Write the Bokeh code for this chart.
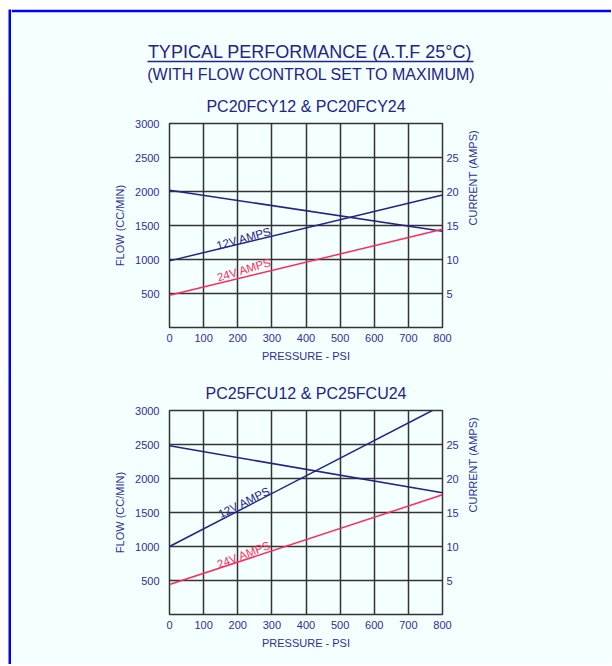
import math
from bokeh.plotting import figure
from bokeh.models import Range1d, LinearAxis, FixedTicker
from bokeh.layouts import column, row
from bokeh.embed import file_html
from bokeh.resources import INLINE
from bokeh.core.properties import value

# ---------------- data ----------------
main_title = "TYPICAL PERFORMANCE (A.T.F 25°C)"
sub_title = "(WITH FLOW CONTROL SET TO MAXIMUM)"
chart_titles = ["PC20FCY12 & PC20FCY24", "PC25FCU12 & PC25FCU24"]
pressure_ticks = [0, 100, 200, 300, 400, 500, 600, 700, 800]
flow_ticks = [500, 1000, 1500, 2000, 2500, 3000]
flow_grid = [0, 500, 1000, 1500, 2000, 2500, 3000]
amp_ticks = [5, 10, 15, 20, 25]
line_labels = ["12V AMPS", "24V AMPS"]

# chart 1 : PC20FCY12 & PC20FCY24
c1_flow_psi = [0, 800]
c1_flow = [2020, 1415]
c1_12v_psi = [0, 800]
c1_12v_amps = [9.8, 19.5]
c1_24v_psi = [0, 800]
c1_24v_amps = [4.75, 14.45]
c1_label_psi = [218, 219]
c1_label_amps = [13.1, 8.5]
c1_label_angle = [15.5, 16.5]

# chart 2 : PC25FCU12 & PC25FCU24
c2_flow_psi = [0, 800]
c2_flow = [2480, 1790]
c2_12v_psi = [0, 770]
c2_12v_amps = [10.0, 30.0]
c2_24v_psi = [0, 800]
c2_24v_amps = [4.4, 17.6]
c2_label_psi = [219, 218]
c2_label_amps = [16.5, 8.8]
c2_label_angle = [26, 21]

# ---------------- style ----------------
BG = "#f4ffff"
BLUE = "#0000ff"
NAVY = "#22228a"
TXT = "#2e2e9a"
RED = "#ff2a5a"
GRID = "#333333"
FONT = "Liberation Sans"
W = 600
EDGE = 3
HEAD_H = 74
C1_TOP, C1_BOTTOM = 37, 45
C2_TOP, C2_BOTTOM = 38, 50
FRAME_H = 204


def bar(width, height):
    p = figure(width=width, height=height, x_axis_location=None, y_axis_location=None,
               min_border=0, toolbar_location=None, output_backend="svg",
               background_fill_color=BLUE, border_fill_color=BLUE, outline_line_color=None)
    p.frame_align = False
    p.grid.visible = False
    return p


def header():
    p = figure(width=W, height=HEAD_H + EDGE, x_range=Range1d(0, W),
               y_range=Range1d(HEAD_H, 0),
               x_axis_location=None, y_axis_location=None, min_border=0,
               min_border_top=EDGE,
               toolbar_location=None, output_backend="svg",
               background_fill_color=BG, border_fill_color=BLUE, outline_line_color=None)
    p.frame_align = False
    p.grid.visible = False
    p.text(x=[298.5], y=[39], text=[main_title], text_align="center",
           text_baseline="middle", text_font=value(FONT), text_font_size="18px",
           text_color=NAVY)
    p.segment(x0=[136], y0=[49], x1=[462], y1=[49], line_color=NAVY, line_width=1.5)
    p.text(x=[300], y=[62], text=[sub_title], text_align="center",
           text_baseline="middle", text_font=value(FONT), text_font_size="16px",
           text_color=NAVY)
    return p


def chart(title, flow_psi, flow, v12_psi, v12, v24_psi, v24,
          lab_psi, lab_amps, lab_angle, top, bottom):
    p = figure(x_range=Range1d(0, 800), y_range=Range1d(0, 3000),
               frame_width=273, frame_height=FRAME_H,
               min_border_left=158, min_border_right=W - 158 - 273,
               min_border_top=top, min_border_bottom=bottom,
               toolbar_location=None, output_backend="svg",
               background_fill_color=BG, border_fill_color=BG,
               outline_line_color=GRID, outline_line_width=1.5)
    p.extra_y_ranges = {"amps": Range1d(0, 30)}

    p.title.text = title
    p.title.align = "center"
    p.title.text_font = FONT
    p.title.text_font_size = "16px"
    p.title.text_font_style = "normal"
    p.title.text_color = NAVY
    p.title.standoff = 17

    right = LinearAxis(y_range_name="amps", ticker=FixedTicker(ticks=amp_ticks),
                       axis_label="CURRENT (AMPS)")
    p.add_layout(right, "right")

    p.xaxis.ticker = FixedTicker(ticks=pressure_ticks)
    p.yaxis[0].ticker = FixedTicker(ticks=flow_ticks)
    p.xaxis.axis_label = "PRESSURE - PSI"
    p.yaxis[0].axis_label = "FLOW (CC/MIN)"

    for ax in p.axis:
        ax.axis_line_color = None
        ax.major_tick_line_color = None
        ax.minor_tick_line_color = None
        ax.major_tick_out = 0
        ax.major_tick_in = 0
        ax.major_label_text_font = FONT
        ax.major_label_text_font_size = "11px"
        ax.major_label_text_color = TXT
        ax.axis_label_text_font = FONT
        ax.axis_label_text_font_size = "11px"
        ax.axis_label_text_font_style = "normal"
        ax.axis_label_text_color = TXT
    p.xaxis.major_label_standoff = 6
    p.xaxis.axis_label_standoff = 5
    p.yaxis[0].major_label_standoff = 10
    p.yaxis[0].axis_label_standoff = 6
    right.major_label_standoff = 4
    right.axis_label_standoff = 11
    right.axis_label_orientation = math.pi / 2

    p.xgrid.ticker = FixedTicker(ticks=pressure_ticks)
    p.ygrid.ticker = FixedTicker(ticks=flow_grid)
    p.grid.grid_line_color = GRID
    p.grid.grid_line_width = 1.5

    p.line(flow_psi, flow, line_color=NAVY, line_width=1.5)
    p.line(v12_psi, v12, y_range_name="amps", line_color=NAVY, line_width=1.5)
    p.line(v24_psi, v24, y_range_name="amps", line_color=RED, line_width=1.5)

    p.text(x=lab_psi, y=lab_amps, text=line_labels, angle=lab_angle, angle_units="deg",
           y_range_name="amps", text_color=[NAVY, RED], text_font=value(FONT),
           text_font_size="11.5px", text_baseline="middle", text_align="center")
    return p


h = header()
p1 = chart(chart_titles[0], c1_flow_psi, c1_flow, c1_12v_psi, c1_12v_amps,
           c1_24v_psi, c1_24v_amps, c1_label_psi, c1_label_amps, c1_label_angle,
           C1_TOP, C1_BOTTOM)
p2 = chart(chart_titles[1], c2_flow_psi, c2_flow, c2_12v_psi, c2_12v_amps,
           c2_24v_psi, c2_24v_amps, c2_label_psi, c2_label_amps, c2_label_angle,
           C2_TOP, C2_BOTTOM)

content_h = EDGE + HEAD_H + (C1_TOP + FRAME_H + C1_BOTTOM) + (C2_TOP + FRAME_H + C2_BOTTOM)
body = row(bar(EDGE, content_h), column(h, p1, p2, spacing=0), spacing=0)
layout = column(body, spacing=0, styles={"margin-left": "8px", "margin-top": "9px"})

open("out.html", "w").write(file_html(layout, INLINE))
